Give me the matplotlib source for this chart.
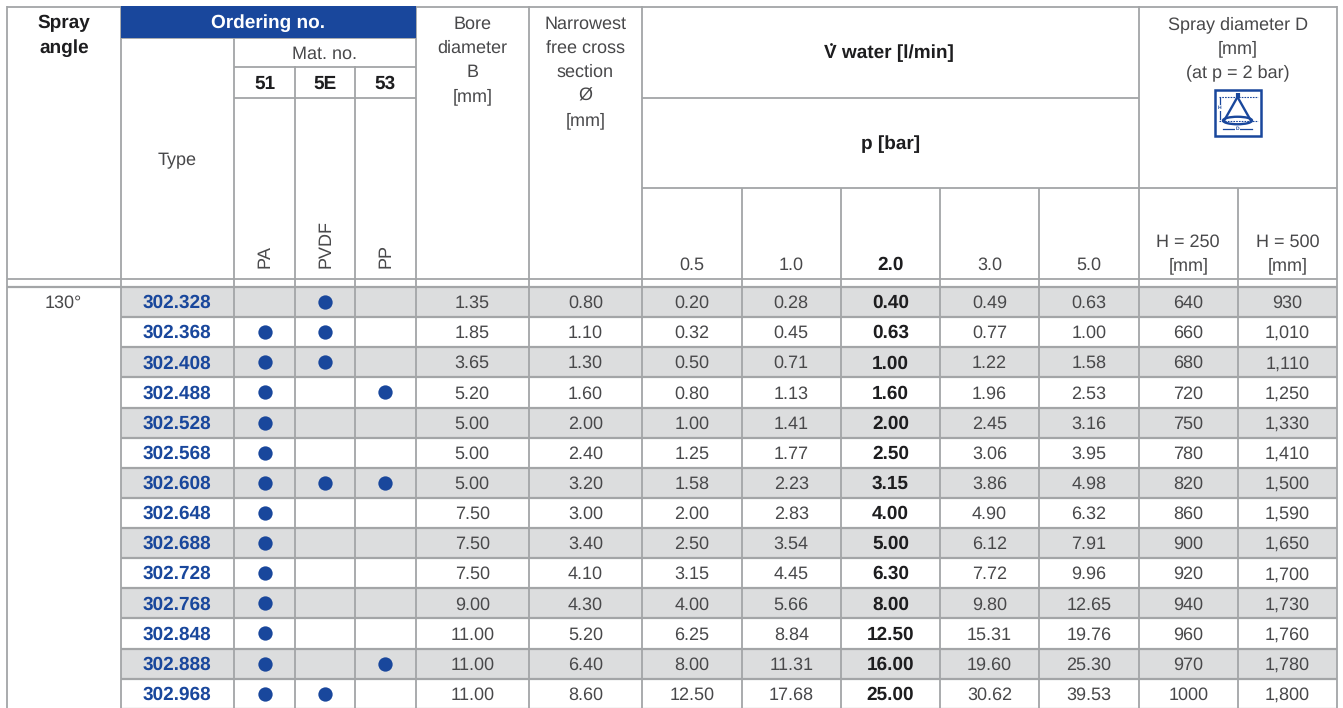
import matplotlib
matplotlib.use("Agg")
import matplotlib.pyplot as plt
from matplotlib.patches import Rectangle, Ellipse

plt.rcParams['font.family'] = ['Liberation Sans', 'DejaVu Sans']
plt.rcParams['text.hinting'] = 'no_hinting'
plt.rcParams['text.hinting_factor'] = 1

# table data
types = ["302.328", "302.368", "302.408", "302.488", "302.528", "302.568", "302.608",
         "302.648", "302.688", "302.728", "302.768", "302.848", "302.888", "302.968"]
mat_51 = [0, 1, 1, 1, 1, 1, 1, 1, 1, 1, 1, 1, 1, 1]
mat_5e = [1, 1, 1, 0, 0, 0, 1, 0, 0, 0, 0, 0, 0, 1]
mat_53 = [0, 0, 0, 1, 0, 0, 1, 0, 0, 0, 0, 0, 1, 0]
bore = ["1.35", "1.85", "3.65", "5.20", "5.00", "5.00", "5.00",
        "7.50", "7.50", "7.50", "9.00", "11.00", "11.00", "11.00"]
narrowest = ["0.80", "1.10", "1.30", "1.60", "2.00", "2.40", "3.20",
             "3.00", "3.40", "4.10", "4.30", "5.20", "6.40", "8.60"]
p_05 = ["0.20", "0.32", "0.50", "0.80", "1.00", "1.25", "1.58",
        "2.00", "2.50", "3.15", "4.00", "6.25", "8.00", "12.50"]
p_10 = ["0.28", "0.45", "0.71", "1.13", "1.41", "1.77", "2.23",
        "2.83", "3.54", "4.45", "5.66", "8.84", "11.31", "17.68"]
p_20 = ["0.40", "0.63", "1.00", "1.60", "2.00", "2.50", "3.15",
        "4.00", "5.00", "6.30", "8.00", "12.50", "16.00", "25.00"]
p_30 = ["0.49", "0.77", "1.22", "1.96", "2.45", "3.06", "3.86",
        "4.90", "6.12", "7.72", "9.80", "15.31", "19.60", "30.62"]
p_50 = ["0.63", "1.00", "1.58", "2.53", "3.16", "3.95", "4.98",
        "6.32", "7.91", "9.96", "12.65", "19.76", "25.30", "39.53"]
h_250 = ["640", "660", "680", "720", "750", "780", "820",
         "860", "900", "920", "940", "960", "970", "1000"]
h_500 = ["930", "1,010", "1,110", "1,250", "1,330", "1,410", "1,500",
         "1,590", "1,650", "1,700", "1,730", "1,760", "1,780", "1,800"]
pressures = ["0.5", "1.0", "2.0", "3.0", "5.0"]
materials = ["PA", "PVDF", "PP"]
mat_numbers = ["51", "5E", "53"]

BLUE = "#19479c"
GRID = "#a3a5a7"
SHADE = "#dcddde"
TEXT = "#48484a"
DARK = "#1d1d1f"
FS = 13.2
FS_BOLD = 13.6

# column edges / row layout in pixels
X = [7, 120.5, 234, 295, 355, 415.5, 529, 642, 741.5, 841, 940, 1039, 1138.5, 1238, 1337]
ROW_TOP = 287
ROW_H = 30.13

fig = plt.figure(figsize=(13.43, 7.08), dpi=100)
ax = fig.add_axes([0, 0, 1, 1])
ax.set_xlim(0, 1343)
ax.set_ylim(708, 0)
ax.axis("off")


def hline(y, x0, x1, lw=1.3):
    ax.plot([x0, x1], [y, y], color=GRID, lw=lw, solid_capstyle="butt", zorder=3)


def vline(x, y0, y1, lw=1.3):
    ax.plot([x, x], [y0, y1], color=GRID, lw=lw, solid_capstyle="butt", zorder=3)


def txt(x, y, s, bold=False, color=TEXT, size=None):
    # baseline anchored so rows don't jitter with glyph heights
    if size is None:
        size = FS_BOLD if bold else FS
    return ax.text(x, y + 6, s, ha="center", va="baseline", fontsize=size, color=color,
                   fontweight="bold" if bold else "normal", zorder=5)


def mid(i):
    return (X[i] + X[i + 1]) / 2


# shaded rows
for i in range(len(types)):
    if i % 2 == 0:
        ax.add_patch(Rectangle((X[1], ROW_TOP + i * ROW_H), X[-1] - X[1], ROW_H,
                               fc=SHADE, ec="none", zorder=1))

# blue header
ax.add_patch(Rectangle((X[1], 6), X[5] - X[1], 31.5, fc=BLUE, ec="none", zorder=4))

# header grid
hline(6.5, X[0], X[-1])
hline(37.5, X[1], X[5])
hline(66.5, X[2], X[5])
hline(97.5, X[2], X[5])
hline(97.5, X[7], X[12])
hline(188, X[7], X[-1])
hline(278.5, X[0], X[-1])
hline(286.5, X[0], X[-1], lw=1.6)
for i in range(1, len(types) + 1):
    hline(ROW_TOP + i * ROW_H, X[1], X[-1], lw=1.6)

# vertical lines
for x in [X[0], X[1], X[5], X[6], X[7], X[12], X[-1]]:
    vline(x, 6, 708)
vline(X[2], 37, 708)
vline(X[3], 66, 708)
vline(X[4], 66, 708)
for i in range(8, 12):
    vline(X[i], 188, 708)
vline(X[13], 188, 708)

# header text
txt(mid(0), 22.5, "Spray", bold=True, color=DARK)
txt(mid(0), 46.5, "angle", bold=True, color=DARK)
txt((X[1] + X[5]) / 2, 21.5, "Ordering no.", bold=True, color="white")
txt(mid(1), 159, "Type")
txt((X[2] + X[5]) / 2, 52.5, "Mat. no.")
for j, (n, m) in enumerate(zip(mat_numbers, materials)):
    txt(mid(2 + j), 82.5, n, bold=True, color=DARK)
    ax.text(mid(2 + j) + 0.5, 268, m, ha="center", va="bottom", rotation=90,
            fontsize=FS, color=TEXT, zorder=5)
for k, s in enumerate(["Bore", "diameter", "B", "[mm]"]):
    txt(mid(5), 23 + k * 24, s)
for k, s in enumerate(["Narrowest", "free cross", "section", "Ø", "[mm]"]):
    txt(mid(6), 23 + k * 24, s)
txt((X[7] + X[12]) / 2 - 1, 52.5, "V water [l/min]", bold=True, color=DARK)
ax.plot(830.5, 44, "o", ms=2, color=DARK, mec="none", zorder=6)  # flow-rate dot over the V
txt((X[7] + X[12]) / 2, 143, "p [bar]", bold=True, color=DARK)
for j, p in enumerate(pressures):
    txt(mid(7 + j), 264, p, bold=(p == "2.0"), color=DARK if p == "2.0" else TEXT)
for k, s in enumerate(["Spray diameter D", "[mm]", "(at p = 2 bar)"]):
    txt((X[12] + X[-1]) / 2, 23 + k * 24, s)
for j, s in enumerate(["H = 250", "H = 500"]):
    txt(mid(12 + j), 241, s)
    txt(mid(12 + j), 264, "[mm]")

# spray cone icon
ax.add_patch(Rectangle((1214.5, 89.5), 46, 46, fc="white", ec=BLUE, lw=1.8, zorder=5))
ax.plot([1237.5, 1224.5], [97, 120], color=BLUE, lw=1.7, zorder=6)
ax.plot([1237.5, 1250.5], [97, 120], color=BLUE, lw=1.7, zorder=6)
ax.add_patch(Ellipse((1237.5, 120.5), 29, 7.5, fc="none", ec=BLUE, lw=1.7, zorder=6))
ax.plot([1237.5, 1237.5], [93, 98], color=BLUE, lw=3, solid_capstyle="butt", zorder=6)
for yy in [97, 120.5]:
    ax.plot([1219, 1258], [yy, yy], color=BLUE, lw=0.8, ls=(0, (1.5, 1)), zorder=6)
ax.plot([1219.5, 1219.5], [98, 119], color=BLUE, lw=0.9, zorder=6)
ax.plot([1223, 1252], [129, 129], color=BLUE, lw=0.9, zorder=6)
ax.text(1219.5, 108, "H", fontsize=3.5, color=BLUE, ha="center", va="center", fontweight="bold",
        zorder=7, bbox=dict(fc="white", ec="none", pad=0.3))
ax.text(1237.5, 129, "D", fontsize=3.5, color=BLUE, ha="center", va="center", fontweight="bold",
        zorder=7, bbox=dict(fc="white", ec="none", pad=0.3))

# body
txt(mid(0), ROW_TOP + ROW_H / 2 - 0.5, "130°")
text_cols = [(5, bore), (6, narrowest), (7, p_05), (8, p_10), (9, p_20), (10, p_30),
             (11, p_50), (12, h_250), (13, h_500)]
for i, t in enumerate(types):
    yc = ROW_TOP + (i + 0.5) * ROW_H
    txt(mid(1), yc, t, bold=True, color=BLUE, size=14)
    for j, col in enumerate([mat_51, mat_5e, mat_53]):
        if col[i]:
            ax.plot(mid(2 + j), yc, "o", ms=10.3, color=BLUE, mec="none", zorder=5)
    for c, values in text_cols:
        is_bold = c == 9
        txt(mid(c), yc, values[i], bold=is_bold, color=DARK if is_bold else TEXT)

fig.savefig("out.png", dpi=100, facecolor="white")
